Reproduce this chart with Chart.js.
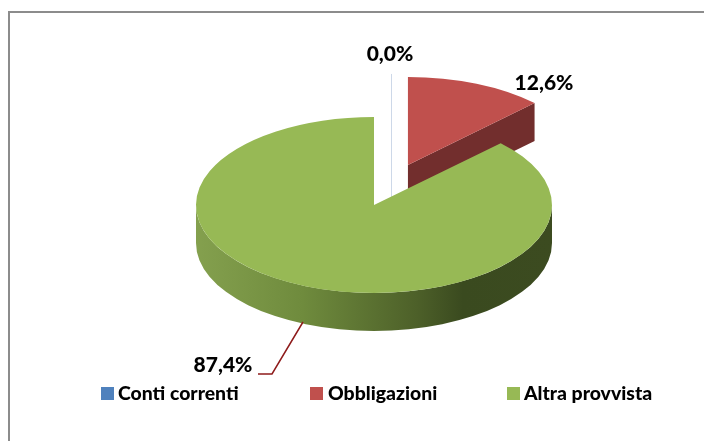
<!DOCTYPE html>
<html><head><meta charset="utf-8">
<style>html,body{margin:0;padding:0;background:#fff}#w{position:absolute;left:0;top:0;width:704px;height:441px}</style>
<script src="https://cdn.jsdelivr.net/npm/chart.js@4"></script></head>
<body><div id="w"><canvas id="c" width="704" height="441"></canvas></div>
<script>
const categories = ["Conti correnti", "Obbligazioni", "Altra provvista"];
const shares = [0.0, 12.6, 87.4];
const percentLabels = ["0,0%", "12,6%", "87,4%"];
const sliceColors = ["#4F81BD", "#C0504D", "#97B955"];

const TILT = 0.494, DEPTH = 38, RADIUS = 178, EXPLODE = 88;
const FONT_LEGEND = '900 19.4px Lato, "Open Sans", sans-serif';
const FONT_LABEL = '900 21px Lato, "Open Sans", sans-serif';

const pie3d = {
  id: "pie3d",
  beforeDraw(chart) {
    const c = chart.ctx;
    c.save();
    c.strokeStyle = "#8c8c8c"; c.lineWidth = 2;
    c.beginPath(); c.moveTo(9, 441); c.lineTo(9, 12); c.lineTo(704, 12); c.stroke();
    c.restore();
  },
  beforeDatasetsDraw(chart) {
    const c = chart.ctx, arcs = chart.getDatasetMeta(0).data;
    const green = arcs[2], red = arcs[1];
    const cx = green.x, cy = green.y, R = green.outerRadius;
    // explode the red slice along its mid-angle
    const mid = (red.startAngle + red.endAngle) / 2;
    red.x = cx + Math.cos(mid) * EXPLODE;
    red.y = cy + Math.sin(mid) * EXPLODE;
    const ax = red.x, ay = cy + (red.y - cy) * TILT;
    const bx = ax + Math.cos(red.endAngle) * R, by = ay + Math.sin(red.endAngle) * R * TILT;
    c.save();
    // zero slice: hairline
    c.strokeStyle = "#cdd8e8"; c.lineWidth = 1;
    const zx = Math.round((ax + cx) / 2) + 0.5;
    c.beginPath(); c.moveTo(zx, ay - R * TILT - 3); c.lineTo(zx, ay + DEPTH); c.stroke();
    // red slice: cut face
    c.fillStyle = "#722E2D";
    c.beginPath(); c.moveTo(ax, ay); c.lineTo(bx, by); c.lineTo(bx, by + DEPTH); c.lineTo(ax, ay + DEPTH); c.closePath(); c.fill();
    // green slice: outer wall
    const g = c.createLinearGradient(cx - R, 0, cx + R, 0);
    g.addColorStop(0, "#84A04E"); g.addColorStop(0.3, "#6F8B3D"); g.addColorStop(0.62, "#4D6029");
    g.addColorStop(0.75, "#3A4A1F"); g.addColorStop(1, "#3C4B20");
    c.fillStyle = g;
    c.beginPath();
    c.ellipse(cx, cy + DEPTH, R, R * TILT, 0, 0, Math.PI);
    c.ellipse(cx, cy, R, R * TILT, 0, Math.PI, 0, true);
    c.closePath(); c.fill();
    c.restore();
    // tilt the library's own arcs
    c.save();
    c.translate(cx, cy); c.scale(1, TILT); c.translate(-cx, -cy);
  },
  afterDatasetsDraw(chart) {
    const c = chart.ctx;
    c.restore();
    c.save();
    // leader line
    c.strokeStyle = "#8E1B1B"; c.lineWidth = 1.5;
    c.beginPath(); c.moveTo(303, 322); c.lineTo(272, 374); c.lineTo(258, 374); c.stroke();
    // data labels
    c.fillStyle = "#000"; c.font = FONT_LABEL; c.textBaseline = "middle"; c.textAlign = "center";
    c.fillText(percentLabels[0], 390, 54);
    c.fillText(percentLabels[1], 544, 83);
    c.fillText(percentLabels[2], 223, 365);
    // legend
    c.font = FONT_LEGEND; c.textAlign = "left";
    const boxes = [101, 310, 507], texts = [118, 328, 524];
    categories.forEach((name, i) => {
      c.fillStyle = sliceColors[i]; c.fillRect(boxes[i], 387, 13, 13);
      c.fillStyle = "#000"; c.fillText(name, texts[i], 394);
    });
    c.restore();
  }
};

new Chart(document.getElementById("c"), {
  type: "pie",
  data: { labels: categories, datasets: [{
    data: shares, backgroundColor: sliceColors, borderWidth: 0, clip: false
  }]},
  options: {
    responsive: false, animation: false, radius: RADIUS,
    layout: { padding: { left: 44, right: 0, top: 0, bottom: 31 } },
    plugins: { legend: { display: false }, tooltip: { enabled: false } }
  },
  plugins: [pie3d]
});
</script></body></html>
